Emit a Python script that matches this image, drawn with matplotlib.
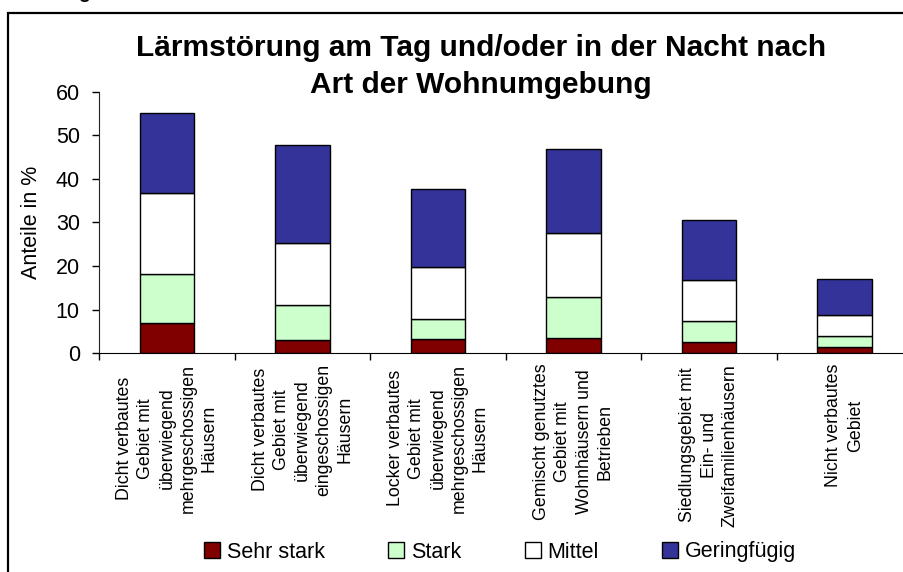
import matplotlib
matplotlib.use("Agg")
import matplotlib.pyplot as plt
from matplotlib.patches import Rectangle
import numpy as np

plt.rcParams['font.family'] = ['Liberation Sans', 'DejaVu Sans']

# data (Anteile in %)
categories = [
    "Dicht verbautes\nGebiet mit\nüberwiegend\nmehrgeschossigen\nHäusern",
    "Dicht verbautes\nGebiet mit\nüberwiegend\neingeschossigen\nHäusern",
    "Locker verbautes\nGebiet mit\nüberwiegend\nmehrgeschossigen\nHäusern",
    "Gemischt genutztes\nGebiet mit\nWohnhäusern und\nBetrieben",
    "Siedlungsgebiet mit\nEin- und\nZweifamilienhäusern",
    "Nicht verbautes\nGebiet",
]
sehr_stark = [7.0, 3.1, 3.3, 3.4, 2.5, 1.5]
stark = [11.1, 8.0, 4.6, 9.4, 4.8, 2.4]
mittel = [18.7, 14.3, 12.0, 14.8, 9.4, 4.8]
geringfuegig = [18.4, 22.3, 17.8, 19.2, 13.9, 8.3]
series_names = ["Sehr stark", "Stark", "Mittel", "Geringfügig"]
colors = ["#800000", "#CCFFCC", "#FFFFFF", "#333399"]

W, H = 904, 572
fig = plt.figure(figsize=(W / 100, H / 100), dpi=100)
fig.patch.set_facecolor("white")

# outer frame (only top and left visible)
fig.patches.append(Rectangle((7.5 / W, -0.05), 1.2, (1 - 12.7 / H) + 0.05,
                             transform=fig.transFigure, fill=False,
                             edgecolor="black", linewidth=1.6))
# cut-off heading above the frame
fig.text(78 / W, 1 + 1.5 / H, "g", fontsize=14, fontweight="bold",
         ha="left", va="baseline")

ax = fig.add_axes([99.3 / W, 1 - 353.3 / H, 813 / W, 261.6 / H])
x = np.arange(len(categories))
bottom = np.zeros(len(categories))
handles = []
for vals, name, col in zip([sehr_stark, stark, mittel, geringfuegig], series_names, colors):
    b = ax.bar(x, vals, width=0.4, bottom=bottom, color=col, edgecolor="black",
               linewidth=1.0, label=name)
    handles.append(b)
    bottom += np.array(vals)

ax.set_xlim(-0.5, len(categories) - 0.5)
ax.set_ylim(0, 60)
ax.set_yticks(range(0, 61, 10))
ax.tick_params(axis="y", labelsize=15.5, length=5, width=1, direction="out", pad=9)
ax.set_xticks(np.arange(-0.5, len(categories), 1.0))
ax.set_xticklabels([])
ax.tick_params(axis="x", which="major", length=5, width=1, direction="out")
for xi, lab in zip(x, categories):
    ax.text(xi, -2.4, lab, rotation=90, ha="center", va="top",
            multialignment="center", fontsize=12.8, linespacing=1.32,
            transform=ax.transData)
for s in ["top", "right"]:
    ax.spines[s].set_visible(False)
ax.spines["left"].set_color("#222222")
ax.spines["bottom"].set_color("black")
ax.set_ylabel("Anteile in %", fontsize=15.5, labelpad=10)

fig.text(481 / W, 1 - 66.5 / H,
         "Lärmstörung am Tag und/oder in der Nacht nach\nArt der Wohnumgebung",
         ha="center", va="center", fontsize=21.5, fontweight="bold", linespacing=1.4)

fig.legend(handles, series_names, loc="center", bbox_to_anchor=(500 / W, 1 - 552 / H),
           ncol=4, frameon=False, fontsize=15.5, handlelength=0.75, handleheight=0.75,
           handletextpad=0.3, columnspacing=2.95, borderpad=0)

fig.savefig("out.png", dpi=100)
